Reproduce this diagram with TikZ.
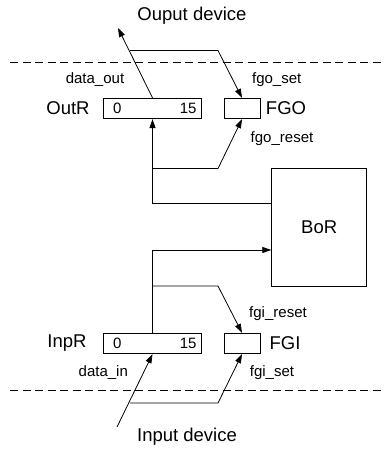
\documentclass[tikz,border=0pt]{standalone}
\usepackage{fontspec}
\setmainfont{Liberation Sans}
\usetikzlibrary{arrows.meta}

\begin{document}
\begin{tikzpicture}[x=1pt, y=-1pt, line width=0.8pt,
    font=\fontsize{15}{18}\selectfont,
    box/.style={rectangle, draw, inner sep=0pt},
    reg/.style={box, minimum width=98pt, minimum height=20.5pt},
    flag/.style={box, minimum width=36pt, minimum height=20.5pt},
    big/.style={font=\fontsize{18.5}{22}\selectfont},
    bit/.style={inner sep=0pt},
    arrow/.style={-{Triangle[length=9pt, width=6pt]}}]
    \useasboundingbox (0,0) rectangle (384,452);

    % registers and flags
    \node[reg] (outr) at (152.5,108.5) {};
    \node[flag] (fgo) at (242,108.5) {};
    \node[reg] (inpr) at (152.5,343.5) {};
    \node[flag] (fgi) at (242,343.5) {};
    \node[box, big, minimum width=95pt, minimum height=118pt] (bor) at (319.2,227.2) {BoR};

    \node[bit, anchor=west] (outr0) at ([xshift=9.5pt]outr.west) {0};
    \node[bit, anchor=east] (outr15) at ([xshift=-5pt]outr.east) {15};
    \node[bit, anchor=west] (inpr0) at ([xshift=9.5pt]inpr.west) {0};
    \node[bit, anchor=east] (inpr15) at ([xshift=-5pt]inpr.east) {15};

    % names
    \node[big] (outrname) at (68,108.5) {OutR};
    \node[big] (fgoname) at (286,108.5) {FGO};
    \node[big] (inprname) at (67,343.5) {InpR};
    \node[big] (fginame) at (285,343.5) {FGI};
    \node[big] (outdev) at (192,16) {Ouput device};
    \node[big] (indev) at (187,437) {Input device};

    % signal labels
    \node (dataout) at (95,80) {data\_out};
    \node (fgoset) at (276.7,80) {fgo\_set};
    \node (fgoreset) at (282,139) {fgo\_reset};
    \node (fgireset) at (278,314) {fgi\_reset};
    \node (datain) at (103.3,373) {data\_in};
    \node (fgiset) at (272,373) {fgi\_set};

    % separators
    \draw[dash pattern=on 8pt off 4.5pt] (10,62.5) -- (384,62.5);
    \draw[dash pattern=on 8pt off 4.5pt] (10,390) -- (384,390);

    % output side
    \coordinate (outtip) at (118,28);
    \coordinate (osetstart) at (130,50.5);
    \coordinate (obus) at (152.5,203);
    \coordinate (oreset) at (152.5,168.5);
    \draw[arrow] (outr.north) -- (outtip);
    \draw[arrow] (osetstart) -- (218,50.5) -- (fgo.north);
    \draw[arrow] (bor.west |- obus) -- (obus) -- (outr.south);
    \draw[arrow] (oreset) -- (218,168.5) -- (fgo.south);

    % input side
    \coordinate (ibus) at (152.5,250);
    \coordinate (ireset) at (152.5,286);
    \coordinate (intail) at (117,427);
    \coordinate (isetstart) at (130,403);
    \draw[arrow] (inpr.north) -- (ibus) -- (bor.west |- ibus);
    \draw[arrow] (ireset) -- (218,286) -- (fgi.north);
    \draw[arrow] (intail) -- (inpr.south);
    \draw[arrow] (isetstart) -- (218,403) -- (fgi.south);
\end{tikzpicture}
\end{document}
